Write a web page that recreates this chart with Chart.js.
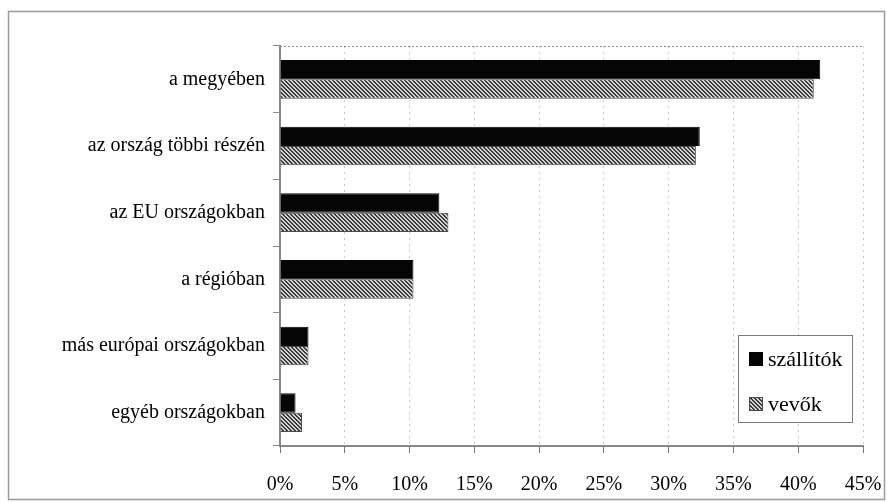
<!DOCTYPE html>
<html>
<head>
<meta charset="utf-8">
<script src="https://cdn.jsdelivr.net/npm/chart.js@4/dist/chart.umd.min.js"></script>
<style>
  html, body { margin: 0; padding: 0; background: #fff; }
  #wrap { width: 887px; height: 503px; position: relative; }
</style>
</head>
<body>
<div id="wrap"><canvas id="c" width="887" height="503"></canvas></div>
<script>
// Categories (top to bottom) and the two series, in percent
const categories = [
  'a megyében',
  'az ország többi részén',
  'az EU országokban',
  'a régióban',
  'más európai országokban',
  'egyéb országokban'
];
const seriesNames = ['szállítók', 'vevők'];
const szallitok = [41.7, 32.4, 12.3, 10.3, 2.2, 1.2];
const vevok     = [41.2, 32.1, 13.0, 10.3, 2.2, 1.7];
const xTicks = [0, 5, 10, 15, 20, 25, 30, 35, 40, 45];

const SERIF = '"Liberation Serif", "Times New Roman", serif';

// Fine diagonal hatch used for the second series
function makeHatch() {
  const s = 4;
  const t = document.createElement('canvas');
  t.width = s; t.height = s;
  const g = t.getContext('2d');
  g.fillStyle = '#d4d4d4';
  g.fillRect(0, 0, s, s);
  g.fillStyle = '#3a3a3a';
  for (let i = 0; i < s; i++) {
    g.fillRect(i, i, 1, 1);
    g.fillRect((i + 1) % s, i, 1, 1);
  }
  return document.getElementById('c').getContext('2d').createPattern(t, 'repeat');
}
const hatch = makeHatch();

// Outer frame, dotted plot border and the boxed legend
const decorations = {
  id: 'decorations',
  beforeDraw(chart) {
    const ctx = chart.ctx;
    ctx.save();
    ctx.fillStyle = '#fff';
    ctx.fillRect(0, 0, chart.width, chart.height);
    ctx.strokeStyle = '#9a9a9a';
    ctx.lineWidth = 1.5;
    ctx.strokeRect(8.5, 11.5, 876, 488);
    const a = chart.chartArea;
    ctx.strokeStyle = '#8a8a8a';
    ctx.lineWidth = 1;
    ctx.setLineDash([2, 2]);
    ctx.beginPath();
    ctx.moveTo(a.left, a.top + 0.5);
    ctx.lineTo(a.right, a.top + 0.5);
    ctx.stroke();
    ctx.restore();
  },
  afterDraw(chart) {
    const ctx = chart.ctx;
    const a = chart.chartArea;
    const x0 = a.right - 125, y0 = a.bottom - 111, w = 114, h = 87;
    ctx.save();
    ctx.fillStyle = '#fff';
    ctx.fillRect(x0, y0, w, h);
    ctx.strokeStyle = '#7a7a7a';
    ctx.lineWidth = 1;
    ctx.strokeRect(x0 + 0.5, y0 + 0.5, w, h);
    ctx.font = '22px ' + SERIF;
    ctx.textBaseline = 'middle';
    ctx.fillStyle = '#000';
    chart.data.datasets.forEach((ds, i) => {
      const cy = y0 + 24 + i * 45;
      ctx.fillStyle = ds.backgroundColor;
      ctx.fillRect(x0 + 11, cy - 7, 14, 14);
      ctx.strokeStyle = ds.borderColor;
      ctx.strokeRect(x0 + 11.5, cy - 6.5, 13, 13);
      ctx.fillStyle = '#000';
      ctx.fillText(ds.label, x0 + 30, cy + 1);
    });
    ctx.restore();
  }
};

new Chart(document.getElementById('c'), {
  type: 'bar',
  data: {
    labels: categories,
    datasets: [
      { label: seriesNames[0], data: szallitok, backgroundColor: '#050505', borderColor: '#050505', borderWidth: 1 },
      { label: seriesNames[1], data: vevok, backgroundColor: hatch, borderColor: '#4a4a4a', borderWidth: 1 }
    ]
  },
  options: {
    indexAxis: 'y',
    responsive: false,
    animation: false,
    devicePixelRatio: 1,
    categoryPercentage: 0.58,
    barPercentage: 1.0,
    layout: { padding: { left: 8, right: 24, top: 46, bottom: 0 } },
    plugins: {
      legend: { display: false },
      tooltip: { enabled: false },
      title: { display: false }
    },
    scales: {
      x: {
        min: 0, max: 45,
        afterFit(s) { s.height = 57; s.paddingLeft = 0; s.paddingRight = 0; },
        afterBuildTicks(s) { s.ticks = xTicks.map(v => ({ value: v })); },
        ticks: {
          color: '#000',
          font: { family: SERIF, size: 20 },
          padding: 20,
          maxRotation: 0,
          callback: v => v + '%'
        },
        grid: {
          color: 'rgba(0,0,0,0.2)',
          lineWidth: 1,
          tickColor: '#777',
          tickLength: 7,
          drawTicks: true
        },
        border: { display: true, color: '#888', width: 2, dash: [2, 4] }
      },
      y: {
        afterFit(s) { s.width = 272; s.paddingTop = 0; s.paddingBottom = 0; },
        ticks: {
          color: '#000',
          font: { family: SERIF, size: 20 },
          padding: 8
        },
        grid: {
          offset: true,
          drawOnChartArea: false,
          tickColor: '#888',
          tickLength: 7
        },
        border: { display: true, color: '#888', width: 2 }
      }
    }
  },
  plugins: [decorations]
});
</script>
</body>
</html>
